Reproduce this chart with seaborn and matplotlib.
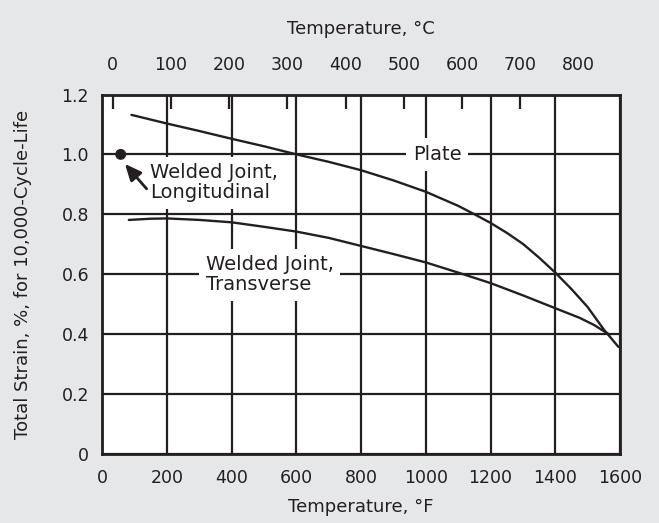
import numpy as np
import pandas as pd
import matplotlib
matplotlib.use("Agg")
import matplotlib.pyplot as plt
import seaborn as sns

# values (temperature in deg F, total strain in %)
plate_temp_f = [90, 200, 300, 400, 500, 600, 700, 800, 900, 1000, 1100, 1150, 1200,
                1250, 1300, 1350, 1400, 1450, 1500, 1550, 1595]
plate_strain = [1.132, 1.103, 1.078, 1.052, 1.027, 1.0, 0.975, 0.947, 0.913, 0.875,
                0.828, 0.80, 0.771, 0.738, 0.701, 0.655, 0.605, 0.55, 0.49, 0.415, 0.357]

transverse_temp_f = [82, 150, 200, 300, 400, 500, 600, 700, 800, 900, 1000, 1100,
                     1200, 1300, 1400, 1475, 1520, 1555, 1568]
transverse_strain = [0.781, 0.785, 0.786, 0.781, 0.773, 0.758, 0.742, 0.721, 0.694,
                     0.667, 0.639, 0.605, 0.570, 0.529, 0.486, 0.454, 0.43, 0.406, 0.398]

longitudinal_temp_f = [57]
longitudinal_strain = [1.0]

f_ticks = [0, 200, 400, 600, 800, 1000, 1200, 1400, 1600]
strain_ticks = [0, 0.2, 0.4, 0.6, 0.8, 1.0, 1.2]
strain_labels = ["0", "0.2", "0.4", "0.6", "0.8", "1.0", "1.2"]
c_labels = [0, 100, 200, 300, 400, 500, 600, 700, 800]
c_marks = [0, 100, 200, 300, 400, 500, 600, 700]

ink = "#231f20"
bg = "#e6e7e8"


def c_to_f(c):
    return np.asarray(c) * 1.8 + 32


def f_to_c(f):
    return (np.asarray(f) - 32) / 1.8


sns.set_theme(style="white")
plt.rcParams["font.family"] = ["DejaVu Sans"]
plt.rcParams["text.color"] = ink
plt.rcParams["axes.labelcolor"] = ink
plt.rcParams["xtick.color"] = ink
plt.rcParams["ytick.color"] = ink

fig = plt.figure(figsize=(6.59, 5.23), dpi=100, facecolor=bg)
ax = fig.add_axes([0.1552, 0.1325, 0.7856, 0.6868])
ax.set_facecolor("white")

plate = pd.DataFrame({"temp": plate_temp_f, "strain": plate_strain})
trans = pd.DataFrame({"temp": transverse_temp_f, "strain": transverse_strain})

sns.lineplot(data=plate, x="temp", y="strain", ax=ax, color=ink, lw=1.7,
             estimator=None, zorder=4)
sns.lineplot(data=trans, x="temp", y="strain", ax=ax, color=ink, lw=1.7,
             estimator=None, zorder=4)
sns.scatterplot(x=longitudinal_temp_f, y=longitudinal_strain, ax=ax, color=ink,
                s=62, edgecolor="none", zorder=5)

ax.set_xlim(0, 1600)
ax.set_ylim(0, 1.2)
ax.set_xticks(f_ticks)
ax.set_yticks(strain_ticks)
ax.set_yticklabels(strain_labels)
ax.tick_params(axis="x", which="major", length=0, pad=11, labelsize=12.5)
ax.tick_params(axis="y", length=0, pad=9.5, labelsize=12.5)

# deg C tick marks hanging down from the top edge
ax.set_xticks(c_to_f(c_marks), minor=True)
ax.tick_params(axis="x", which="minor", top=True, bottom=False, direction="in",
               length=10, width=1.6, color=ink)

ax.set_axisbelow(True)
ax.grid(True, which="major", color=ink, lw=1.6)
for s in ax.spines.values():
    s.set_color(ink)
    s.set_linewidth(2)

ax.set_xlabel("Temperature, °F", fontsize=13)
ax.xaxis.set_label_coords(0.5, -0.123)
ax.set_ylabel("Total Strain, %, for 10,000-Cycle-Life", fontsize=13)
ax.yaxis.set_label_coords(-0.136, 0.5)

# top axis labels in deg C
secax = ax.secondary_xaxis("top", functions=(f_to_c, c_to_f))
secax.set_xticks(c_labels)
secax.tick_params(which="major", length=0, pad=14.5, labelsize=12.5)
secax.tick_params(which="minor", length=0)
for s in secax.spines.values():
    s.set_visible(False)
ax.text(0.5, 1.157, "Temperature, °C", fontsize=13, ha="center", va="bottom",
        transform=ax.transAxes)

box = dict(boxstyle="square,pad=0.35", fc="white", ec="none")
ax.text(1035, 1.0, "Plate", fontsize=14, ha="center", va="center", bbox=box, zorder=3)
ax.text(148, 0.905, "Welded Joint,\nLongitudinal", fontsize=14, ha="left",
        va="center", linespacing=1.05, bbox=box, zorder=3)
ax.text(320, 0.598, "Welded Joint,\nTransverse", fontsize=14, ha="left",
        va="center", linespacing=1.05, bbox=box, zorder=3)

ax.annotate("", xy=(70, 0.968), xytext=(137, 0.885),
            arrowprops=dict(arrowstyle="-|>,head_length=0.9,head_width=0.4",
                            color=ink, lw=2, shrinkA=0, shrinkB=0,
                            mutation_scale=11),
            zorder=5)

fig.savefig("out.png", dpi=100, facecolor=bg)
